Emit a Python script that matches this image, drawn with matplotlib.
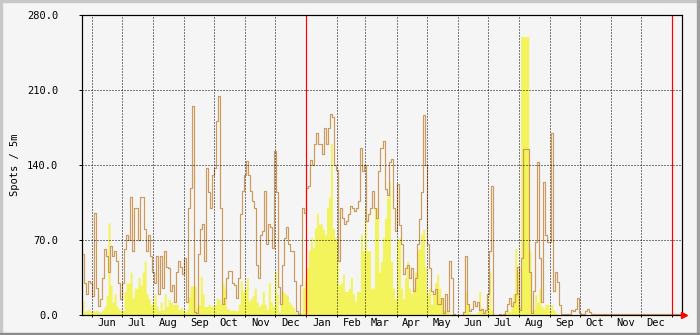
import numpy as np
import pandas as pd
import matplotlib
matplotlib.use('Agg')
import matplotlib.pyplot as plt
import matplotlib.dates as mdates
from matplotlib.patches import Rectangle
from matplotlib.ticker import FixedLocator, FuncFormatter

# ---------------- data ----------------
start = '2009-05-22'
end = '2011-01-11'
step_days = 2
year_marks = ['2010-01-01', '2011-01-01']
y_ticks = [0, 70, 140, 210, 280]
y_label = 'Spots / 5m'

# orange line (2-day steps)
spots_line = [
    57, 30, 20, 32, 30, 18, 95, 25, 8, 15,
    35, 62, 55, 40, 64, 55, 60, 50, 30, 15,
    30, 62, 75, 70, 110, 60, 100, 100, 70, 110,
    110, 80, 60, 75, 55, 40, 30, 55, 20, 55,
    25, 60, 45, 44, 22, 28, 12, 40, 50, 45,
    38, 53, 12, 100, 119, 195, 3, 2, 57, 80,
    85, 50, 137, 115, 100, 131, 137, 181, 204, 100,
    10, 16, 35, 41, 41, 30, 28, 16, 35, 94,
    116, 131, 144, 131, 116, 106, 100, 47, 35, 75,
    78, 116, 66, 85, 82, 63, 153, 115, 26, 10,
    47, 72, 82, 66, 60, 60, 32, 4, 1, 28,
    100, 95, 119, 120, 145, 140, 160, 170, 160, 160,
    150, 175, 160, 175, 188, 185, 140, 135, 50, 100,
    91, 85, 88, 94, 102, 100, 97, 100, 106, 156,
    134, 140, 88, 94, 100, 116, 100, 91, 134, 156,
    162, 118, 112, 143, 146, 100, 78, 122, 84, 66,
    38, 44, 47, 35, 44, 22, 35, 66, 90, 115,
    187, 140, 66, 44, 22, 20, 24, 10, 10, 16,
    2, 20, 4, 50, 35, 1, 0, 0, 0, 0,
    3, 55, 10, 4, 6, 13, 8, 12, 5, 6,
    2, 5, 20, 60, 120, 0, 0, 0, 1, 0,
    1, 4, 10, 16, 8, 12, 20, 45, 5, 53,
    155, 155, 155, 40, 2, 22, 68, 143, 53, 12,
    124, 75, 68, 68, 170, 22, 40, 31, 9, 1,
    1, 1, 1, 1, 5, 4, 6, 16, 2, 1,
    1, 4, 6, 3, 1, 1, 1, 1, 1, 1,
    1, 1, 1, 1, 1, 1, 1, 1, 1, 1,
    1, 1, 1, 1, 1, 1, 1, 1, 1, 1,
    1, 1, 1, 1, 1, 1, 1, 1, 1, 1,
    1, 1, 1, 1, 1, 1, 1, 1, 1, 1,
]

# yellow area (2-day steps)
spots_area = [
    13, 3, 4, 5, 3, 4, 4, 4, 3, 3,
    5, 8, 18, 86, 28, 12, 20, 8, 6, 4,
    4, 22, 30, 30, 40, 16, 25, 25, 35, 28,
    40, 50, 20, 15, 10, 12, 20, 8, 4, 12,
    5, 20, 8, 15, 12, 10, 10, 10, 5, 7,
    5, 3, 5, 17, 27, 27, 27, 7, 10, 36,
    20, 8, 8, 10, 8, 8, 10, 16, 15, 10,
    30, 25, 6, 5, 4, 5, 4, 4, 10, 32,
    22, 25, 35, 13, 15, 18, 25, 12, 8, 10,
    22, 10, 5, 30, 12, 8, 41, 20, 3, 10,
    22, 20, 18, 12, 10, 7, 3, 1, 1, 2,
    25, 32, 44, 60, 72, 63, 81, 95, 85, 85,
    80, 75, 100, 110, 160, 81, 72, 72, 28, 30,
    38, 22, 22, 25, 35, 20, 13, 22, 22, 75,
    60, 100, 60, 60, 25, 25, 100, 100, 40, 50,
    72, 90, 110, 125, 50, 25, 15, 70, 72, 25,
    15, 35, 50, 25, 20, 25, 40, 60, 62, 75,
    80, 45, 20, 25, 10, 20, 30, 38, 25, 15,
    5, 4, 3, 2, 1, 0, 0, 0, 0, 0,
    3, 22, 10, 2, 1, 1, 1, 3, 22, 5,
    2, 5, 10, 41, 5, 0, 0, 0, 0, 0,
    0, 2, 5, 3, 8, 20, 62, 40, 8, 260,
    260, 260, 260, 60, 5, 5, 19, 12, 25, 8,
    6, 10, 10, 5, 10, 5, 2, 1, 0, 0,
    0, 0, 0, 0, 0, 0, 0, 0, 0, 0,
    0, 0, 0, 0, 0, 0, 0, 0, 0, 0,
    0, 0, 0, 0, 0, 0, 0, 0, 0, 0,
    0, 0, 0, 0, 0, 0, 0, 0, 0, 0,
    0, 0, 0, 0, 0, 0, 0, 0, 0, 0,
    0, 0, 0, 0, 0, 0, 0, 0, 0, 0,
]

# ---------------- style ----------------
BG = '#F5F5F5'
LINE_C = '#CC9A5A'
AREA_C = '#F3F35C'
PX = 0.72  # one pixel in points at 100 dpi
W, H = 700, 335

plt.rcParams['font.family'] = ['DejaVu Sans Mono']
plt.rcParams['font.size'] = 7.5

fig = plt.figure(figsize=(W / 100, H / 100), dpi=100, facecolor=BG)
ax = fig.add_axes([82 / W, 20 / H, 600 / W, 300 / H], facecolor=BG)

x = pd.date_range(start, periods=len(spots_line), freq=f'{step_days}D')
xe = mdates.date2num(list(x) + [pd.Timestamp(end)])
line_e = list(spots_line) + [spots_line[-1]]
area_e = list(spots_area) + [spots_area[-1]]

ax.fill_between(xe, 0, area_e, step='post', color=AREA_C, linewidth=0, zorder=1)
ax.step(xe, line_e, where='post', color=LINE_C, linewidth=0.85, zorder=2)

for ym in year_marks:
    ax.axvline(mdates.date2num(pd.Timestamp(ym)), color='#FF0000', linewidth=PX * 1.2, zorder=4)

ax.set_xlim(xe[0], xe[-1])
ax.set_ylim(y_ticks[0], y_ticks[-1])

# x axis: gridlines at month starts, labels mid-month
ax.xaxis.set_major_locator(mdates.MonthLocator())
ax.xaxis.set_major_formatter(plt.NullFormatter())
ax.xaxis.set_minor_locator(mdates.MonthLocator(bymonthday=16))
ax.xaxis.set_minor_formatter(mdates.DateFormatter('%b'))
ax.tick_params(axis='x', which='major', length=2.5 * PX, width=PX, direction='out', color='black')
ax.tick_params(axis='x', which='minor', length=0, pad=3.5 * PX, labelsize=7.5)

ax.yaxis.set_major_locator(FixedLocator(y_ticks))
ax.yaxis.set_major_formatter(FuncFormatter(lambda v, p: f'{v:.1f}'))
ax.tick_params(axis='y', which='major', length=3 * PX, width=PX, direction='out',
               pad=21 * PX, labelsize=7.5)

ax.grid(True, which='major', axis='both', color='black', linestyle=(0, (1, 2)),
        linewidth=PX, zorder=3)
ax.set_axisbelow(False)

for s in ax.spines.values():
    s.set_color('black')
    s.set_linewidth(PX * 1.2)
    s.set_zorder(5)

# arrow at the end of the x axis
ax.plot([1.0 + 2.5 / 600], [0], marker='>', color='#FF0000', markersize=4.2,
        transform=ax.transAxes, clip_on=False, zorder=6)

fig.text(15 / W, 1 - 165 / H, y_label, rotation=90, ha='center', va='center', fontsize=7.5)

# 3D-ish frame
fig.add_artist(Rectangle((0, 1 - 2 / H), 1, 2 / H, transform=fig.transFigure, color='#C8C8C8', zorder=10))
fig.add_artist(Rectangle((0, 0), 2 / W, 1, transform=fig.transFigure, color='#C8C8C8', zorder=10))
fig.add_artist(Rectangle((1 - 3 / W, 0), 3 / W, 1, transform=fig.transFigure, color='#A0A0A0', zorder=11))
fig.add_artist(Rectangle((0, 0), 1, 2.5 / H, transform=fig.transFigure, color='#8C8C8C', zorder=11))

fig.savefig('out.png', dpi=100, facecolor=BG)
